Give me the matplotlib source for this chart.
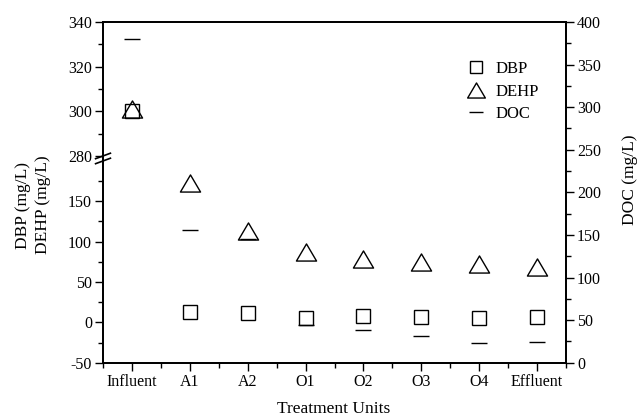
import numpy as np
import matplotlib
matplotlib.use("Agg")
import matplotlib.pyplot as plt
from matplotlib.ticker import FixedLocator, MultipleLocator
from matplotlib.path import Path

plt.rcParams["font.family"] = ["Liberation Serif", "DejaVu Serif"]

# Dados
unidades = ["Influent", "A1", "A2", "O1", "O2", "O3", "O4", "Effluent"]
dbp = [300, 13, 12, 5.6, 7.3, 6.2, 5.2, 6.2]
dehp = [301, 173, 113, 87, 78, 75, 72, 69]
doc = [380, 156, 145, 44, 38, 31, 23.5, 24.3]

# Eixo quebrado: -50..200 embaixo, 280..340 em cima
pts_y = np.array([-1000, -50, 200, 280, 340, 1000])
pts_v = np.array([-1000, -50, 200, 206.2, 372.2, 372.2 + 660 * 2.767])


def forward(y):
    return np.interp(y, pts_y, pts_v)


def inverse(v):
    return np.interp(v, pts_v, pts_y)


fig = plt.figure(figsize=(6.38, 4.19), dpi=100)
ax = fig.add_axes([103 / 638, 56.3 / 419, 463 / 638, 340.7 / 419])
ax.set_yscale("function", functions=(forward, inverse))
ax.set_ylim(-50, 340)
ax.set_xlim(-0.5, 7.5)

x = np.arange(len(unidades))
tri = Path([(-1, -0.85), (1, -0.85), (0, 0.85), (-1, -0.85)],
           [Path.MOVETO, Path.LINETO, Path.LINETO, Path.CLOSEPOLY])

l1, = ax.plot(x, dbp, ls="none", marker="s", ms=10.3, mfc="none",
              mec="black", mew=1.0, label="DBP")
l2, = ax.plot(x, dehp, ls="none", marker=tri, ms=14.5, mfc="none",
              mec="black", mew=1.0, label="DEHP")

ax2 = ax.twinx()
ax2.set_ylim(0, 400)
l3, = ax2.plot(x, doc, ls="none", marker="_", ms=12, mec="black",
               mew=1.0, label="DOC")

# Ticks
ax.yaxis.set_major_locator(FixedLocator([-50, 0, 50, 100, 150, 280, 300, 320, 340]))
ax.yaxis.set_minor_locator(FixedLocator([-25, 25, 75, 125, 175, 290, 310, 330]))
ax.set_yticklabels(["-50", "0", "50", "100", "150", "280", "300", "320", "340"])
ax.set_xticks(x)
ax.set_xticklabels(unidades)
ax.xaxis.set_minor_locator(FixedLocator(np.arange(-0.5, 8, 1)))
ax2.yaxis.set_major_locator(MultipleLocator(50))
ax2.yaxis.set_minor_locator(MultipleLocator(25))

for a in (ax, ax2):
    a.tick_params(which="major", length=6, width=1.0, labelsize=11.5,
                  direction="out", pad=2)
    a.tick_params(which="minor", length=3.5, width=1.0, direction="out")
    for s in a.spines.values():
        s.set_linewidth(1.3)
ax.tick_params(axis="x", which="both", top=False)

# Marcas da quebra no eixo esquerdo
def frac(y):
    return (forward(y) - forward(-50)) / (forward(340) - forward(-50))

for yb in (200, 280):
    f = frac(yb)
    ax.plot([-0.016, 0.016], [f - 0.008, f + 0.008], color="black",
            lw=1.2, transform=ax.transAxes, clip_on=False)

# Rótulos
fig.text(33 / 638, 1 - 205 / 419, "DBP (mg/L)\nDEHP (mg/L)", rotation=90,
         ha="center", va="center", fontsize=12.5, linespacing=1.3)
fig.text(630 / 638, 1 - 180 / 419, "DOC (mg/L)", rotation=90,
         ha="center", va="center", fontsize=12.5)
fig.text(334 / 638, 1 - 409 / 419, "Treatment Units", ha="center",
         va="center", fontsize=12.5)

leg = ax2.legend(handles=[l1, l2, l3], loc="upper left",
                 bbox_to_anchor=(456 / 638, 1 - 53 / 419),
                 bbox_transform=fig.transFigure, frameon=False,
                 fontsize=12, numpoints=1, handlelength=1.4,
                 handletextpad=0.5, labelspacing=0.38, borderpad=0,
                 markerscale=0.88)

fig.savefig("out.png", dpi=100)
